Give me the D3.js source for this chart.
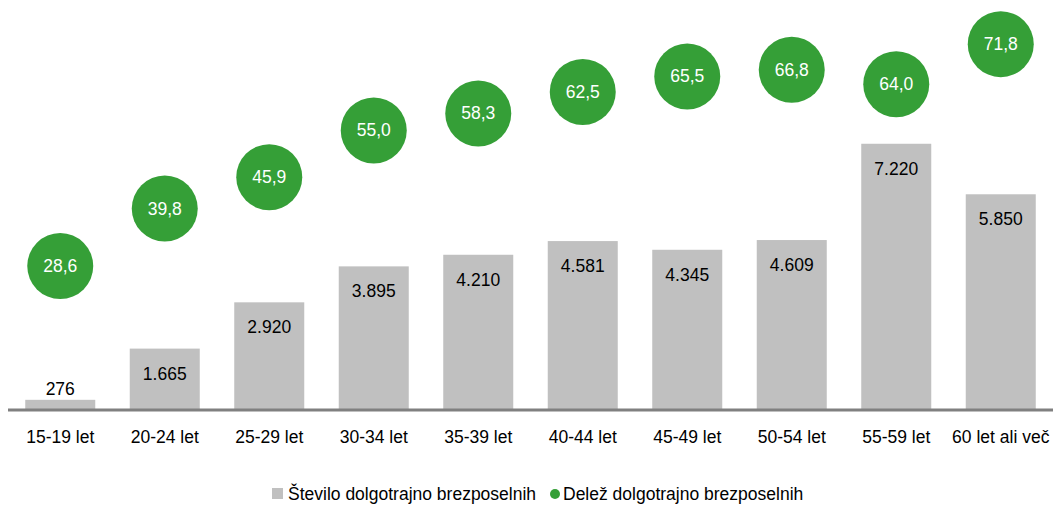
<!DOCTYPE html>
<html><head><meta charset="utf-8">
<script src="https://cdn.jsdelivr.net/npm/d3@7"></script>
<style>body{margin:0;background:#fff}svg{display:block}text{font-family:"Liberation Sans",Arial,sans-serif}</style>
</head><body>
<svg id="c" width="1053" height="505"></svg>
<script>
const categories = ["15-19 let","20-24 let","25-29 let","30-34 let","35-39 let","40-44 let","45-49 let","50-54 let","55-59 let","60 let ali več"];
const counts = [276,1665,2920,3895,4210,4581,4345,4609,7220,5850];
const shares = [28.6,39.8,45.9,55.0,58.3,62.5,65.5,66.8,64.0,71.8];
const seriesNames = ["Število dolgotrajno brezposelnih","Delež dolgotrajno brezposelnih"];

const svg = d3.select("#c");
const x = d3.scaleBand().domain(categories).range([8,1053]).paddingInner(0.33).paddingOuter(0.165);
const y = d3.scaleLinear().domain([0,8000]).range([410,115]);
const y2 = d3.scaleLinear().domain([0,80]).range([413,2]);
const fmt = v => d3.format(",")(v).replace(/,/g,".");
const fmt2 = v => v.toFixed(1).replace(".",",");
const fs = 17.5;

svg.selectAll("rect.bar").data(counts).join("rect").attr("class","bar")
  .attr("x",(d,i)=>x(categories[i])).attr("width",x.bandwidth())
  .attr("y",d=>y(d)).attr("height",d=>y(0)-y(d)).attr("fill","#c0c0c0");

svg.selectAll("text.bl").data(counts).join("text").attr("class","bl")
  .attr("x",(d,i)=>x(categories[i])+x.bandwidth()/2)
  .attr("y",d=> (y(0)-y(d))<40 ? y(d)-5 : y(d)+31)
  .attr("text-anchor","middle").attr("font-size",fs).attr("fill","#000").text(fmt);

const xa = svg.append("g").attr("transform","translate(0,410)").call(d3.axisBottom(x).tickSize(0).tickPadding(21));
xa.select(".domain").attr("stroke","#808080").attr("stroke-width",3).attr("d","M8,0H1053");
xa.selectAll("text").attr("font-size",fs).attr("fill","#000").attr("font-family","Liberation Sans, Arial, sans-serif");

svg.selectAll("circle.pt").data(shares).join("circle").attr("class","pt")
  .attr("cx",(d,i)=>x(categories[i])+x.bandwidth()/2).attr("cy",d=>y2(d)).attr("r",33).attr("fill","#359f37");
svg.selectAll("text.pl").data(shares).join("text").attr("class","pl")
  .attr("x",(d,i)=>x(categories[i])+x.bandwidth()/2).attr("y",d=>y2(d)+6)
  .attr("text-anchor","middle").attr("font-size",fs).attr("fill","#fff").text(fmt2);

const lg = svg.append("g");
lg.append("rect").attr("x",272).attr("y",488).attr("width",11).attr("height",11).attr("fill","#c0c0c0");
lg.append("text").attr("x",288).attr("y",500).attr("font-size",fs).text(seriesNames[0]);
lg.append("circle").attr("cx",555).attr("cy",494).attr("r",5).attr("fill","#359f37");
lg.append("text").attr("x",563).attr("y",500).attr("font-size",fs).text(seriesNames[1]);
</script>
</body></html>
